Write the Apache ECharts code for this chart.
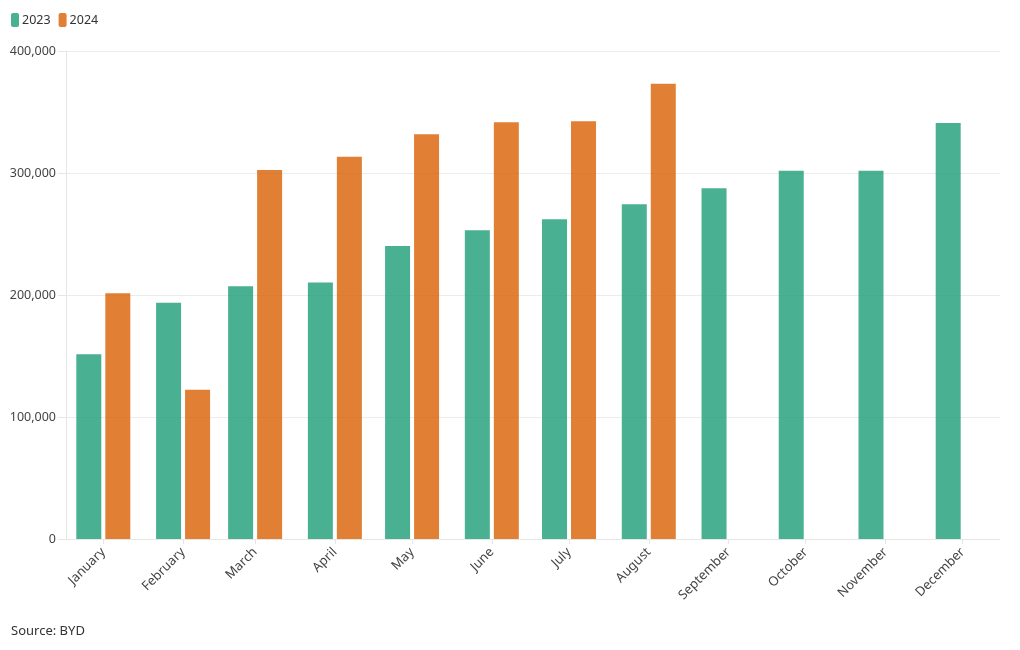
<!DOCTYPE html>
<html>
<head>
<meta charset="utf-8">
<script src="https://cdn.jsdelivr.net/npm/echarts@6/dist/echarts.min.js"></script>
<style>
html,body{margin:0;padding:0;background:#fff;}
#chart{width:1020px;height:650px;}
</style>
</head>
<body>
<div id="chart"></div>
<script>
var months = ['January','February','March','April','May','June','July','August','September','October','November','December'];
var sales2023 = [151341, 193655, 207080, 210295, 240220, 253046, 262161, 274386, 287454, 301833, 301903, 341043];
var sales2024 = [201493, 122311, 302459, 313245, 331817, 341658, 342383, 373083];
var yTicks = [0, 100000, 200000, 300000, 400000];

// day-of-year offset of each month start (non-leap year)
var monthDays = months.map(function (m, i) {
  return Math.round((Date.UTC(2023, i, 1) - Date.UTC(2023, 0, 1)) / 86400000);
});

var chart = echarts.init(document.getElementById('chart'));
var font = '"Noto Sans", sans-serif';
chart.setOption({
  animation: false,
  textStyle: { fontFamily: font },
  legend: {
    left: 11, top: 13, padding: 0, itemWidth: 8, itemHeight: 14, itemGap: 8,
    icon: 'roundRect',
    textStyle: { fontSize: 12.5, color: '#333', fontFamily: font, padding: [0, 0, 0, -2] },
    data: ['2023', '2024']
  },
  graphic: [{
    type: 'text', left: 11, top: 625,
    style: { text: 'Source: BYD', fontSize: 13, fill: '#333', fontFamily: font }
  }],
  grid: { left: 66, right: 20, top: 51, bottom: 111, containLabel: false },
  xAxis: {
    type: 'value', min: -14.5, max: 348.5,
    splitLine: { show: false },
    axisLine: { show: true, lineStyle: { color: '#e6e6e6' } },
    axisTick: { show: true, length: 5, customValues: monthDays, lineStyle: { color: '#e6e6e6' } },
    axisLabel: {
      customValues: monthDays, rotate: 45, fontSize: 13, color: '#444', fontFamily: font, margin: 11,
      formatter: function (v) { return months[monthDays.indexOf(Math.round(v))] || ''; }
    }
  },
  yAxis: {
    type: 'value', min: 0, max: 400000, interval: 100000,
    axisLine: { show: true, onZero: false, lineStyle: { color: '#e6e6e6' } },
    axisTick: { show: true, length: 8, lineStyle: { color: '#e6e6e6' } },
    splitLine: { show: true, lineStyle: { color: '#ececec' } },
    axisLabel: {
      fontSize: 12.5, color: '#444', fontFamily: font, margin: 10,
      formatter: function (v) { return v.toLocaleString('en-US'); }
    }
  },
  series: [
    {
      name: '2023', type: 'bar', barWidth: 25, barGap: '16%',
      itemStyle: { color: 'rgba(27,158,119,0.8)' },
      data: sales2023.map(function (v, i) { return [monthDays[i], v]; })
    },
    {
      name: '2024', type: 'bar', barWidth: 25, barGap: '16%',
      itemStyle: { color: 'rgba(217,95,2,0.8)' },
      data: sales2024.map(function (v, i) { return [monthDays[i], v]; })
    }
  ],
  color: ['#1b9e77', '#d95f02']
});
</script>
</body>
</html>
